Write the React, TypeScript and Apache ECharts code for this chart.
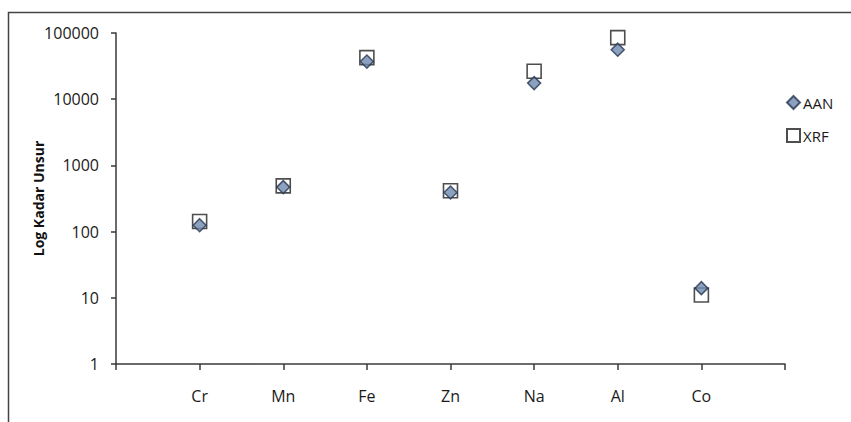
import React, { useEffect, useRef } from "react";
import * as echarts from "echarts";

const categories = ["Cr", "Mn", "Fe", "Zn", "Na", "Al", "Co"];
const aanValues = [125, 470, 37000, 390, 17500, 56000, 14];
const xrfValues = [142, 490, 42500, 415, 26500, 85000, 11];
const yTicks = [1, 10, 100, 1000, 10000, 100000];

const FONT = "'Open Sans', sans-serif";

export default function App() {
  const ref = useRef<HTMLDivElement>(null);
  useEffect(() => {
    if (!ref.current) return;
    const chart = echarts.init(ref.current, null, { renderer: "svg" });
    const toPoints = (vals: number[]) => vals.map((v, i) => [i + 1, v]);
    chart.setOption({
      animation: false,
      backgroundColor: "#ffffff",
      grid: { left: 116, right: 66, top: 33, bottom: 58, containLabel: false },
      legend: {
        orient: "vertical",
        left: 781,
        top: 90,
        itemGap: 18,
        itemWidth: 13,
        itemHeight: 13,
        data: ["AAN", "XRF"],
        textStyle: { fontFamily: FONT, fontSize: 15, color: "#1a1a1a", padding: [0, 0, 0, -2] },
      },
      xAxis: {
        type: "value",
        min: 0,
        max: 8,
        interval: 1,
        splitLine: { show: false },
        axisLine: { onZero: false, lineStyle: { color: "#3a3a3a", width: 1.5 } },
        axisTick: { show: true, length: 6, lineStyle: { color: "#3a3a3a", width: 1.5 } },
        axisLabel: {
          margin: 24,
          fontFamily: FONT,
          fontSize: 16,
          color: "#1a1a1a",
          formatter: (v: number) => (v >= 1 && v <= categories.length ? categories[v - 1] : ""),
        },
      },
      yAxis: {
        type: "log",
        logBase: 10,
        min: yTicks[0],
        max: yTicks[yTicks.length - 1],
        name: "Log Kadar Unsur",
        nameLocation: "middle",
        nameRotate: 90,
        nameGap: 71,
        nameMoveOverlap: false,
        nameTextStyle: { fontFamily: FONT, fontSize: 14, fontWeight: "bold", color: "#111" },
        splitLine: { show: false },
        axisLine: { show: true, lineStyle: { color: "#3a3a3a", width: 1.5 } },
        axisTick: { show: true, length: 5, lineStyle: { color: "#3a3a3a", width: 1.5 } },
        axisLabel: {
          margin: 17,
          fontFamily: FONT,
          fontSize: 16,
          color: "#1a1a1a",
          formatter: (v: number) => String(Math.round(v)),
        },
      },
      graphic: [
        {
          type: "rect",
          shape: { x: 8.5, y: 12.5, width: 900, height: 500 },
          style: { fill: "none", stroke: "#444", lineWidth: 1.5 },
          silent: true,
          z: -1,
        },
      ],
      series: [
        {
          name: "XRF",
          type: "scatter",
          symbol: "rect",
          symbolSize: 14,
          data: toPoints(xrfValues),
          itemStyle: { color: "rgba(255,255,255,0)", borderColor: "#222", borderWidth: 1.6 },
          z: 2,
        },
        {
          name: "AAN",
          type: "scatter",
          symbol: "diamond",
          symbolSize: 13,
          data: toPoints(aanValues),
          itemStyle: { color: "#6f89b0", borderColor: "#27364f", borderWidth: 1.5 },
          z: 3,
        },
      ],
    });
    return () => chart.dispose();
  }, []);
  return (
    <div
      ref={ref}
      style={{ position: "fixed", left: 0, top: 0, width: 851, height: 422, background: "#fff" }}
    />
  );
}
